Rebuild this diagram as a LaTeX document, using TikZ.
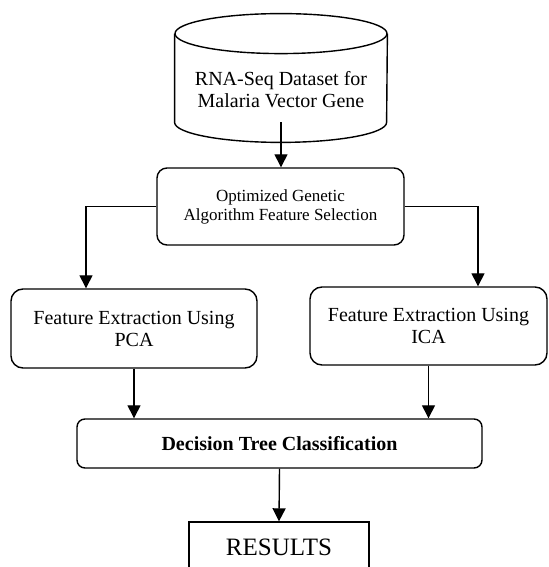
\documentclass[tikz,border=0pt]{standalone}
\usepackage{fontspec}
\setmainfont{Liberation Serif}
\usetikzlibrary{arrows.meta}
\tikzset{
	box/.style={draw, line width=0.7pt, rounded corners=6pt, align=center, inner sep=0pt, font=\fontsize{10}{11}\selectfont},
	flow/.style={line width=0.7pt, -{Triangle[length=6.5pt,width=6.5pt]}},
}

\begin{document}
\begin{tikzpicture}[x=0.5pt,y=0.5pt]
			
				\useasboundingbox (0,0) rectangle (548,567);
				
				\node[minimum width=106pt, minimum height=44pt, inner sep=0pt] (data) at (281,489) {};
				\draw[line width=0.7pt] (data.north west) -- (data.south west) arc[start angle=180, end angle=360, x radius=53pt, y radius=10pt] -- (data.north east);
				\draw[line width=0.7pt] (data.north) ellipse[x radius=53pt, y radius=10pt];
				\node[align=center, font=\fontsize{10}{11}\selectfont] (datatext) at (281,477) {RNA-Seq Dataset for\\Malaria Vector Gene};
				
				\node[box, rounded corners=5pt, minimum width=123.5pt, minimum height=38.5pt, font=\fontsize{8.5}{9.5}\selectfont] (ga) at (280.5,360.5) {Optimized Genetic\\Algorithm Feature Selection};
				\node[box, minimum width=123pt, minimum height=39.5pt] (pca) at (134,238.5) {Feature Extraction Using\\PCA};
				\node[box, minimum width=118.5pt, minimum height=39pt] (ica) at (428.5,241) {Feature Extraction Using\\ICA};
				\node[box, rounded corners=4pt, minimum width=202.5pt, minimum height=24.5pt, font=\bfseries\fontsize{10}{11}\selectfont] (dt) at (279.5,123.5) {Decision Tree Classification};
				\node[box, sharp corners, minimum width=90pt, minimum height=25pt, font=\fontsize{12.5}{14}\selectfont] (res) at (279,20) {RESULTS};
				
				\draw[flow] (data.south) -- (data.south |- ga.north);
				\draw[flow] (ga.west) -| ([xshift=-24pt]pca.north);
				\draw[flow] (ga.east) -| ([xshift=24.75pt]ica.north);
				\draw[flow] (pca.south) -- (pca.south |- dt.north);
				\draw[flow] (ica.south) -- (ica.south |- dt.north);
				\draw[flow] (dt.south) -- (res.north);
			\end{tikzpicture}
\end{document}
